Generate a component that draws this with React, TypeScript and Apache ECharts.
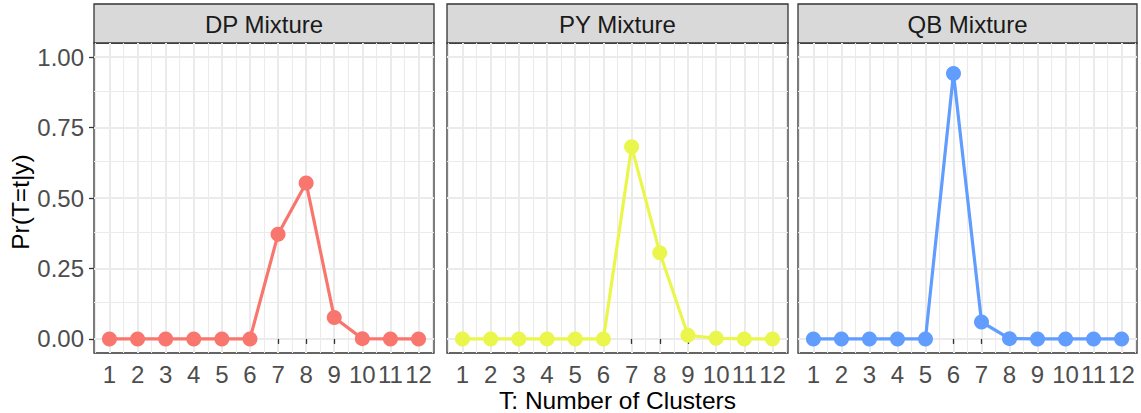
import React, { useEffect, useRef } from "react";
import * as echarts from "echarts";

const panels = ["DP Mixture", "PY Mixture", "QB Mixture"];
const clusters = [1, 2, 3, 4, 5, 6, 7, 8, 9, 10, 11, 12];
const dpValues = [0, 0, 0, 0, 0, 0, 0.371, 0.553, 0.076, 0.001, 0, 0];
const pyValues = [0, 0, 0, 0, 0, 0, 0.682, 0.306, 0.013, 0.002, 0, 0];
const qbValues = [0, 0, 0, 0, 0, 0.942, 0.06, 0.001, 0, 0, 0, 0];
const seriesValues = [dpValues, pyValues, qbValues];
const colors = ["#F8766D", "#EAF64B", "#619CFF"];
const yTicks = [0, 0.25, 0.5, 0.75, 1];
const yMinor = [0.125, 0.375, 0.625, 0.875];
const xMinor = [0.5, 1.5, 2.5, 3.5, 4.5, 5.5, 6.5, 7.5, 8.5, 9.5, 10.5, 11.5, 12.5];
const yTitle = "Pr(T=t|y)";
const xTitle = "T: Number of Clusters";

const gridLefts = [94, 447, 798];
const gridWidths = [340, 341, 339];
const GRID_TOP = 43;
const GRID_H = 310;
const FONT = "'Liberation Sans', Arial, sans-serif";

export default function App() {
  const ref = useRef<HTMLDivElement>(null);
  useEffect(() => {
    if (!ref.current) return;
    const chart = echarts.init(ref.current, undefined, { renderer: "svg" });
    const grids: any[] = [];
    const xAxes: any[] = [];
    const yAxes: any[] = [];
    const series: any[] = [];
    const graphics: any[] = [];
    panels.forEach((name, i) => {
      grids.push({
        left: gridLefts[i],
        top: GRID_TOP,
        width: gridWidths[i],
        height: GRID_H,
        show: true,
        backgroundColor: "#FFFFFF",
        borderColor: "#333333",
        borderWidth: 1.3,
        containLabel: false,
        outerBoundsMode: "none",
      });
      xAxes.push({
        type: "value",
        gridIndex: i,
        min: 0.45,
        max: 12.55,
        axisLine: { show: false },
        splitLine: { show: false },
        axisTick: {
          show: true,
          length: 5,
          customValues: clusters,
          lineStyle: { color: "#333333", width: 1.3 },
        },
        axisLabel: {
          show: true,
          customValues: clusters,
          margin: 9,
          color: "#4D4D4D",
          fontSize: 24,
          fontFamily: FONT,
          formatter: (v: number) => String(v),
        },
      });
      yAxes.push({
        type: "value",
        gridIndex: i,
        min: -0.05,
        max: 1.05,
        axisLine: { show: false },
        splitLine: { show: false },
        axisTick: {
          show: i === 0,
          length: 5,
          customValues: yTicks,
          lineStyle: { color: "#333333", width: 1.3 },
        },
        axisLabel: {
          show: i === 0,
          customValues: yTicks,
          margin: 10,
          color: "#4D4D4D",
          fontSize: 24,
          fontFamily: FONT,
          formatter: (v: number) => v.toFixed(2),
        },
      });
      const gridLineData: any[] = [];
      xMinor.forEach((v) => gridLineData.push({ xAxis: v, lineStyle: { width: 1.1 } }));
      clusters.forEach((v) => gridLineData.push({ xAxis: v, lineStyle: { width: 2 } }));
      yMinor.forEach((v) => gridLineData.push({ yAxis: v, lineStyle: { width: 1.1 } }));
      yTicks.forEach((v) => gridLineData.push({ yAxis: v, lineStyle: { width: 2 } }));
      series.push({
        type: "line",
        xAxisIndex: i,
        yAxisIndex: i,
        data: [],
        z: 0,
        silent: true,
        markLine: {
          z: 0,
          silent: true,
          symbol: ["none", "none"],
          label: { show: false },
          lineStyle: { color: "#EBEBEB", type: "solid" },
          emphasis: { disabled: true },
          data: gridLineData,
        },
      });
      const pts = clusters.map((c, k) => [c, seriesValues[i][k]]);
      series.push({
        type: "line",
        xAxisIndex: i,
        yAxisIndex: i,
        z: 3,
        data: pts,
        symbol: "none",
        silent: true,
        lineStyle: { color: colors[i], width: 3.2, type: "solid" },
        emphasis: { disabled: true },
      });
      series.push({
        type: "scatter",
        xAxisIndex: i,
        yAxisIndex: i,
        z: 4,
        data: pts,
        symbol: "circle",
        symbolSize: 15,
        silent: true,
        itemStyle: { color: colors[i], opacity: 1, borderWidth: 0 },
        emphasis: { disabled: true },
      });
      graphics.push({
        type: "rect",
        shape: { x: gridLefts[i], y: 4, width: gridWidths[i], height: GRID_TOP - 4 },
        style: { fill: "#D9D9D9", stroke: "#333333", lineWidth: 1.3 },
      });
      graphics.push({
        type: "text",
        x: gridLefts[i] + gridWidths[i] / 2,
        y: (4 + GRID_TOP) / 2 + 1,
        style: {
          text: name,
          align: "center",
          verticalAlign: "middle",
          fill: "#1A1A1A",
          fontSize: 24,
          fontFamily: FONT,
        },
      });
    });
    graphics.push({
      type: "text",
      x: 20,
      y: 202,
      rotation: Math.PI / 2,
      style: {
        text: yTitle,
        align: "center",
        verticalAlign: "middle",
        fill: "#000000",
        fontSize: 24.5,
        fontFamily: FONT,
      },
    });
    graphics.push({
      type: "text",
      x: gridLefts[1] + gridWidths[1] / 2,
      y: 400,
      style: {
        text: xTitle,
        align: "center",
        verticalAlign: "middle",
        fill: "#000000",
        fontSize: 24.5,
        fontFamily: FONT,
      },
    });
    chart.setOption({
      animation: false,
      backgroundColor: "#FFFFFF",
      grid: grids,
      xAxis: xAxes,
      yAxis: yAxes,
      series,
      graphic: graphics,
    });
    return () => chart.dispose();
  }, []);
  return (
    <div
      ref={ref}
      style={{ position: "absolute", left: 0, top: 0, width: 1141, height: 413 }}
    />
  );
}
